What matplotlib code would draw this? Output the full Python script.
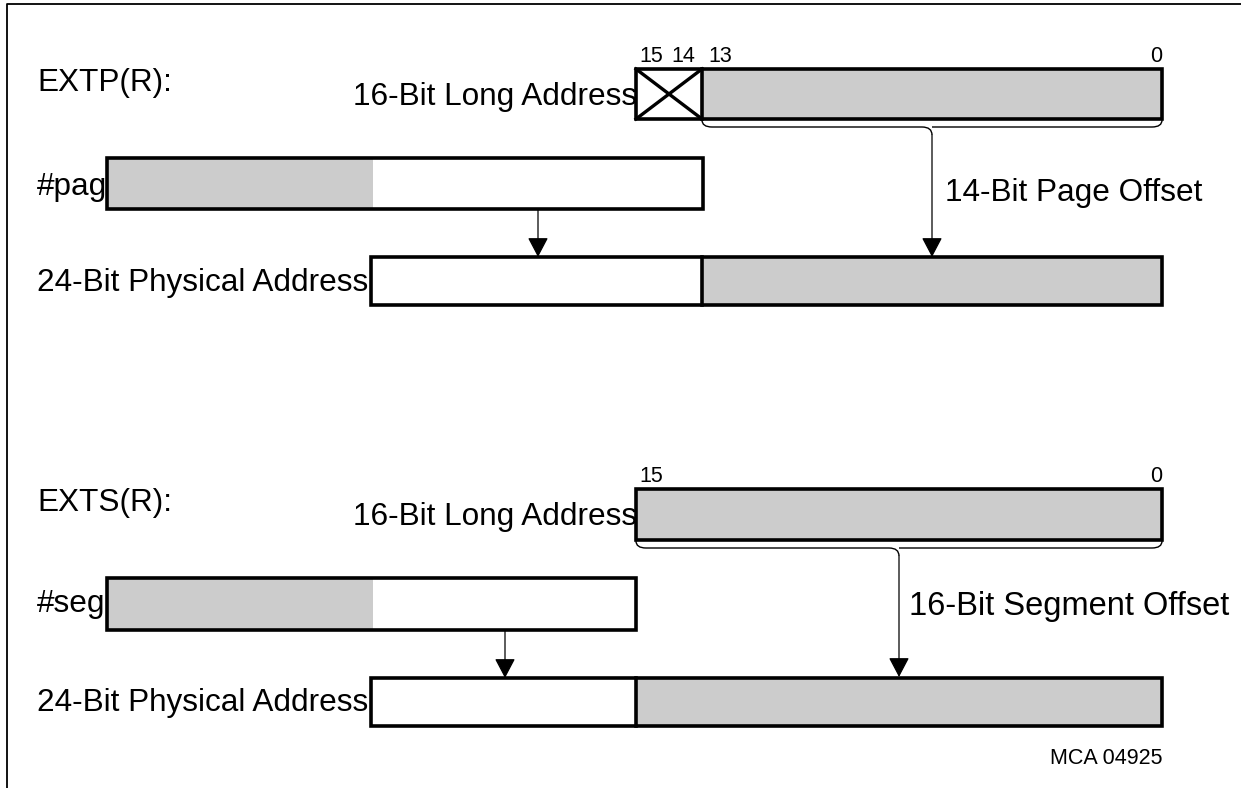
import matplotlib
matplotlib.use("Agg")
import matplotlib.pyplot as plt
from matplotlib.patches import Rectangle, FancyArrowPatch, PathPatch
from matplotlib.path import Path

plt.rcParams['font.family'] = ['Liberation Sans', 'DejaVu Sans']

GRAY = '#cccccc'
FS = 22.7
FS_SMALL = 15.5

# two sections: EXTP (page) and EXTS (segment)
section_titles = ['EXTP(R):', 'EXTS(R):']
source_labels = ['#pag', '#seg']
offset_labels = ['14-Bit Page Offset', '16-Bit Segment Offset']
bit_labels = [['15', '14', '13', '0'], ['15', '0']]
long_addr_label = '16-Bit Long Address'
phys_label = '24-Bit Physical Address'
figure_id = 'MCA 04925'

fig = plt.figure(figsize=(12.41, 7.88), dpi=100)
ax = fig.add_axes([0, 0, 1, 1])
ax.set_xlim(0, 1241)
ax.set_ylim(788, 0)
ax.axis('off')

# frame (left + top only)
ax.plot([7, 7, 1241], [788, 4, 4], color='black', lw=1.3)


def box(x0, x1, y0, y1, fc):
    ax.add_patch(Rectangle((x0, y0), x1 - x0, y1 - y0, facecolor=fc,
                           edgecolor='none'))


def outline(x0, x1, y0, y1):
    ax.add_patch(Rectangle((x0, y0), x1 - x0, y1 - y0, facecolor='none',
                           edgecolor='black', lw=2.6, joinstyle='miter',
                           zorder=3))


def brace(x0, x1, y, xm, d1=7, d2=8):
    r = 10
    verts = [(x0, y), (x0, y + d1), (x0 + r, y + d1),
             (xm - r, y + d1), (xm, y + d1), (xm, y + d1 + d2),
             (xm, y + d1), (xm + r, y + d1),
             (x1 - r, y + d1), (x1, y + d1), (x1, y)]
    codes = [Path.MOVETO, Path.CURVE3, Path.CURVE3,
             Path.LINETO, Path.CURVE3, Path.CURVE3,
             Path.MOVETO, Path.LINETO,
             Path.LINETO, Path.CURVE3, Path.CURVE3]
    ax.add_patch(PathPatch(Path(verts, codes), facecolor='none',
                           edgecolor='black', lw=1.0))
    return y + d1 + d2


def arrow(x, y0, y1):
    ax.add_patch(FancyArrowPatch((x, y0), (x, y1),
                                 arrowstyle='-|>,head_length=0.76,head_width=0.4',
                                 mutation_scale=16, color='black', lw=0.9,
                                 shrinkA=0, shrinkB=0, zorder=4))


# ---------------- EXTP section ----------------
ax.text(37, 83, section_titles[0], fontsize=FS, va='center', ha='left')
ax.text(651, 56, bit_labels[0][0], fontsize=FS_SMALL, va='center', ha='center')
ax.text(683, 56, bit_labels[0][1], fontsize=FS_SMALL, va='center', ha='center')
ax.text(720, 56, bit_labels[0][2], fontsize=FS_SMALL, va='center', ha='center')
ax.text(1162, 56, bit_labels[0][3], fontsize=FS_SMALL, va='center', ha='right')
ax.text(637, 97, long_addr_label, fontsize=FS, va='center', ha='right')
box(702, 1162, 69, 119, GRAY)
ax.plot([636, 702], [69, 119], color='black', lw=2.4)
ax.plot([636, 702], [119, 69], color='black', lw=2.4)
ax.plot([702, 702], [69, 119], color='black', lw=2.6)
outline(636, 1162, 69, 119)
tip = brace(702, 1162, 120, 932)
arrow(932, tip, 257)
ax.text(945, 193, offset_labels[0], fontsize=FS, va='center', ha='left')

ax.text(37, 187, source_labels[0], fontsize=FS, va='center', ha='left')
box(107, 373, 158, 209, GRAY)
outline(107, 703, 158, 209)
arrow(538, 209, 257)

ax.text(37, 283, phys_label, fontsize=FS, va='center', ha='left')
box(702, 1162, 257, 305, GRAY)
ax.plot([702, 702], [257, 305], color='black', lw=2.6)
outline(371, 1162, 257, 305)

# ---------------- EXTS section ----------------
ax.text(37, 503, section_titles[1], fontsize=FS, va='center', ha='left')
ax.text(651, 476, bit_labels[1][0], fontsize=FS_SMALL, va='center', ha='center')
ax.text(1162, 476, bit_labels[1][1], fontsize=FS_SMALL, va='center', ha='right')
ax.text(637, 517, long_addr_label, fontsize=FS, va='center', ha='right')
box(636, 1162, 489, 540, GRAY)
outline(636, 1162, 489, 540)
tip = brace(636, 1162, 541, 899)
arrow(899, tip, 677)
ax.text(909, 607, offset_labels[1], fontsize=23.5, va='center', ha='left',
        clip_on=True)

ax.text(37, 604, source_labels[1], fontsize=FS, va='center', ha='left')
box(107, 373, 578, 630, GRAY)
outline(107, 636, 578, 630)
arrow(505, 630, 678)

ax.text(37, 703, phys_label, fontsize=FS, va='center', ha='left')
box(636, 1162, 678, 726, GRAY)
ax.plot([636, 636], [678, 726], color='black', lw=2.6)
outline(371, 1162, 678, 726)

ax.text(1162, 758, figure_id, fontsize=FS_SMALL, va='center', ha='right')

fig.savefig('out.png', dpi=100)
